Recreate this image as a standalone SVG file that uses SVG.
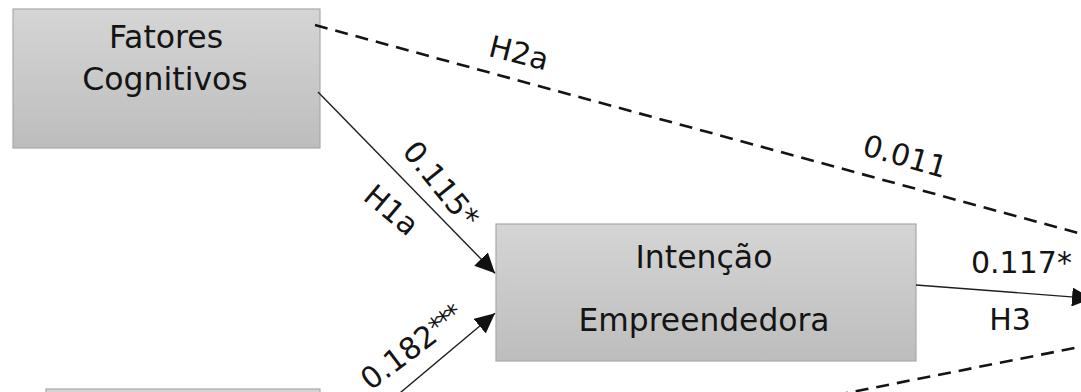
<svg xmlns="http://www.w3.org/2000/svg" width="1081" height="392" viewBox="0 0 1081 392">
<style>
.node rect{fill:url(#boxfill);stroke:#a8a8a8;stroke-width:1.2}
.nt{font-family:"DejaVu Sans",Verdana,sans-serif;font-size:31.5px;fill:#141414;text-anchor:middle}
.lbl{font-family:"DejaVu Sans",Verdana,sans-serif;font-size:30px;fill:#141414}
.solid{stroke:#1e1e1e;stroke-width:1.4;fill:none}
.dash{stroke:#141414;stroke-width:2.6;stroke-dasharray:13 8;fill:none}
</style>
<defs>
<linearGradient id="boxfill" x1="0" y1="0" x2="0" y2="1">
<stop offset="0" stop-color="#d5d5d5"/>
<stop offset="1" stop-color="#bdbdbd"/>
</linearGradient>
<marker id="ah" viewBox="0 0 20 19" refX="20" refY="9.5" markerWidth="20" markerHeight="19" markerUnits="userSpaceOnUse" orient="auto">
<path d="M0,0 L20,9.5 L0,19 z" fill="#111"/>
</marker>
</defs>
<rect width="1081" height="392" fill="#fff"/>
<g id="fatores-cognitivos" class="node">
<rect x="13" y="9" width="307" height="139"/>
<text class="nt" x="166" y="48">Fatores</text>
<text class="nt" x="165" y="90">Cognitivos</text>
</g>
<g id="intencao-empreendedora" class="node">
<rect x="496" y="224" width="420" height="137"/>
<text class="nt" x="704" y="268">Intenção</text>
<text class="nt" x="704" y="331" textLength="251" lengthAdjust="spacingAndGlyphs">Empreendedora</text>
</g>
<g id="bottom-node" class="node">
<rect x="46" y="389" width="274" height="139"/>
</g>
<g id="connectors">
<path class="dash" d="M315,25 L1100,239"/>
<path class="dash" d="M320,497 L1100,343"/>
<path class="solid" d="M318,92 L495,273.3" marker-end="url(#ah)"/>
<path class="solid" d="M320,460 L495,313.3" marker-end="url(#ah)"/>
<path class="solid" d="M916,285 L1092,298.5" marker-end="url(#ah)"/>
</g>
<g id="labels">
<text class="lbl" text-anchor="middle" transform="translate(519 52.5) rotate(14)" y="10.9">H2a</text>
<text class="lbl" transform="translate(864 144) rotate(16)" y="10.9">0.011</text>
<text class="lbl" transform="translate(409.8 145) rotate(51)" y="10.9">0.115*</text>
<text class="lbl" transform="translate(368.8 190.4) rotate(40)" y="10.9">H1a</text>
<text class="lbl" transform="translate(364 382.5) rotate(-37)" y="10.9">0.182<tspan font-size="26" letter-spacing="-2.5" dy="-3">***</tspan></text>
<text class="lbl" transform="translate(411 433) rotate(-37)" y="10.9">H1b</text>
<text class="lbl" x="971" y="273">0.117*</text>
<text class="lbl" text-anchor="middle" x="1010" y="330">H3</text>
</g>
</svg>
